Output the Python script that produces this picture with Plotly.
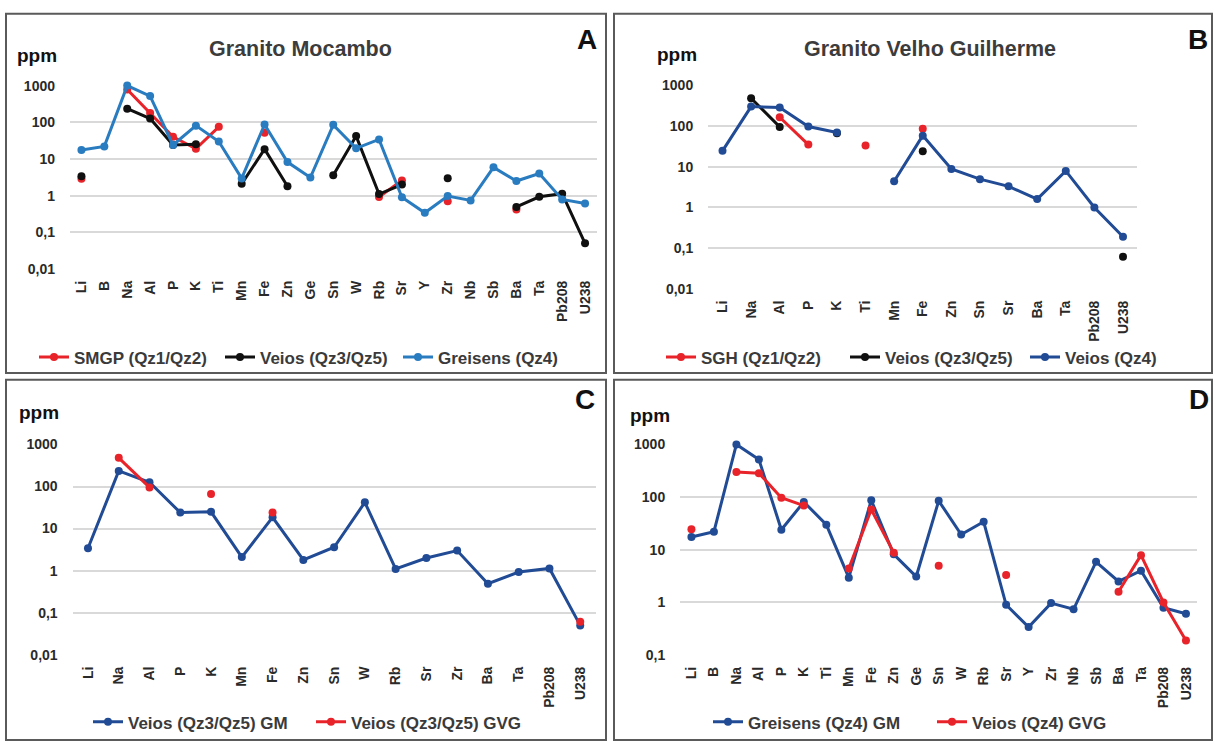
import plotly.graph_objects as go

W, H = 1216, 745

# Element order on the horizontal axes
elements = ["Li", "B", "Na", "Al", "P", "K", "Ti", "Mn", "Fe", "Zn", "Ge", "Sn", "W",
            "Rb", "Sr", "Y", "Zr", "Nb", "Sb", "Ba", "Ta", "Pb208", "U238"]
elements_b = ["Li", "Na", "Al", "P", "K", "Ti", "Mn", "Fe", "Zn", "Sn", "Sr", "Ba",
              "Ta", "Pb208", "U238"]
elements_c = ["Li", "Na", "Al", "P", "K", "Mn", "Fe", "Zn", "Sn", "W", "Rb", "Sr", "Zr",
              "Ba", "Ta", "Pb208", "U238"]

# Mean contents (ppm), aligned with `elements`; None = not analysed
gm_smgp = [2.9, None, 780, 180, 40, 19, 75, None, 52, None, None, None, None,
           0.92, 2.6, None, 0.7, None, None, 0.42, None, None, None]
gm_veios = [3.4, None, 235, 126, 24, 25, None, 2.1, 18.5, 1.8, None, 3.6, 42,
            1.1, 2.0, None, 3.0, None, None, 0.49, 0.93, 1.13, 0.05]
gm_greisens = [17.5, 22, 1000, 520, 24, 81, 30, 2.95, 87, 8.2, 3.1, 85, 19.5,
               34, 0.9, 0.34, 0.97, 0.74, 5.9, 2.5, 4.0, 0.79, 0.61]
gvg_sgh = [None, None, None, 164, 35, None, 33, None, 86, None, None, None, None,
           None, None, None, None, None, None, None, None, None, None]
gvg_veios_qz35 = [None, None, 480, 95, None, 66, None, None, 24, None, None, None, None,
                  None, None, None, None, None, None, None, None, None, 0.061]
gvg_veios_qz4 = [24.5, None, 300, 285, 97, 69, None, 4.4, 58, 8.8, None, 4.95, None,
                 None, 3.3, None, None, None, None, 1.6, 7.9, 1.0, 0.19]

tick_vals = [0.01, 0.1, 1, 10, 100, 1000]
tick_text = ["0,01", "0,1", "1", "10", "100", "1000"]

RED = "#E8232A"
BLACK = "#101010"
LIGHT_BLUE = "#2A7CC0"
NAVY = "#214B95"
FONT = "Liberation Sans"


def pick(values, cats):
    lookup = dict(zip(elements, values))
    return [lookup[c] for c in cats]


def px_x(v):
    return v / W


def px_y(v):
    return 1 - v / H


# axis suffix -> (categories, x extent px, y extent px, log range)
panels = {
    "": (elements, (70, 596.5), (79.3, 266.7), [-2, 3]),
    "2": (elements_b, (708.2, 1137.3), (79, 287), [-2, 3]),
    "3": (elements_c, (72.6, 595.6), (446, 661), [-2, 3]),
    "4": (elements, (680.2, 1197.2), (446, 661.3), [-1, 3]),
}

series = [
    ("", gm_smgp, RED, "SMGP (Qz1/Qz2)", "legend", 39, 357),
    ("", gm_veios, BLACK, "Veios (Qz3/Qz5)", "legend2", 225, 357),
    ("", gm_greisens, LIGHT_BLUE, "Greisens (Qz4)", "legend3", 403, 357),
    ("2", gvg_sgh, RED, "SGH (Qz1/Qz2)", "legend4", 666, 357),
    ("2", gvg_veios_qz35, BLACK, "Veios (Qz3/Qz5)", "legend5", 850, 357),
    ("2", gvg_veios_qz4, NAVY, "Veios (Qz4)", "legend6", 1030, 357),
    ("3", gm_veios, NAVY, "Veios (Qz3/Qz5) GM", "legend7", 93, 730),
    ("3", gvg_veios_qz35, RED, "Veios (Qz3/Qz5) GVG", "legend8", 316, 730),
    ("4", gm_greisens, NAVY, "Greisens (Qz4) GM", "legend9", 713, 730),
    ("4", gvg_veios_qz4, RED, "Veios (Qz4) GVG", "legend10", 937, 730),
]

fig = go.Figure()
layout = dict(
    width=W, height=H, margin=dict(l=0, r=0, t=0, b=0),
    paper_bgcolor="white", plot_bgcolor="white", showlegend=True,
    font=dict(family=FONT, color="#333333"),
    shapes=[], annotations=[],
)

for suffix, values, color, name, legend_id, lx, ly in series:
    cats = panels[suffix][0]
    fig.add_trace(go.Scatter(
        x=cats, y=pick(values, cats), name=name, mode="lines+markers",
        line=dict(color=color, width=3), marker=dict(color=color, size=8),
        connectgaps=False, cliponaxis=False, showlegend=True,
        xaxis="x" + suffix, yaxis="y" + suffix, legend=legend_id,
    ))
    layout[legend_id] = dict(
        x=px_x(lx - 5), y=px_y(ly), xanchor="left", yanchor="middle",
        orientation="h", bgcolor="rgba(0,0,0,0)", visible=True,
        font=dict(family=FONT, size=17, color="#3A3A3A", weight="bold"),
    )

for suffix, (cats, (x0, x1), (ytop, ybot), yr) in panels.items():
    layout["xaxis" + suffix] = dict(
        domain=[px_x(x0), px_x(x1)], anchor="y" + suffix, type="category",
        categoryorder="array", categoryarray=cats, range=[-0.5, len(cats) - 0.5],
        showgrid=False, zeroline=False, showline=False, ticks="",
        tickangle=-90, ticklabelstandoff=8,
        tickfont=dict(family=FONT, size=14, color="#2A2A2A", weight="bold"),
    )
    layout["yaxis" + suffix] = dict(
        domain=[px_y(ybot), px_y(ytop)], anchor="x" + suffix, type="log", range=yr,
        tickvals=tick_vals, ticktext=tick_text, showgrid=True,
        gridcolor="#D9D9D9", gridwidth=1.5, zeroline=False, showline=False,
        ticks="", ticklabelstandoff=14,
        tickfont=dict(family=FONT, size=14, color="#2A2A2A", weight="bold"),
    )

# Panel frames (lower frames run off the bottom edge)
for (x0, y0, x1, y1) in [(6, 6, 606, 373), (614, 6, 1212, 373),
                         (6, 380, 606, 748), (614, 380, 1212, 748)]:
    layout["shapes"].append(dict(
        type="rect", xref="paper", yref="paper", layer="below",
        x0=px_x(x0), x1=px_x(x1), y0=px_y(y1), y1=px_y(y0),
        line=dict(color="#5A5A5A", width=2), fillcolor="rgba(0,0,0,0)",
    ))


def add_text(text, x, y, size, color, xanchor="center"):
    layout["annotations"].append(dict(
        text=text, x=px_x(x), y=px_y(y), xref="paper", yref="paper",
        xanchor=xanchor, yanchor="middle", showarrow=False,
        font=dict(family=FONT, size=size, color=color, weight="bold"),
    ))


add_text("Granito Mocambo", 300, 42, 21.5, "#3C3C3C")
add_text("Granito Velho Guilherme", 930, 42, 21.5, "#3C3C3C")
for (x, y) in [(37, 49), (677, 48), (39, 413), (650, 416)]:
    add_text("ppm", x, y, 19, "#111111")
for letter, x, y in [("A", 587, 32), ("B", 1198, 32), ("C", 585, 400), ("D", 1199, 400)]:
    add_text(letter, x, y, 28, "#111111")

fig.update_layout(**layout)
fig.write_html("out.html")
